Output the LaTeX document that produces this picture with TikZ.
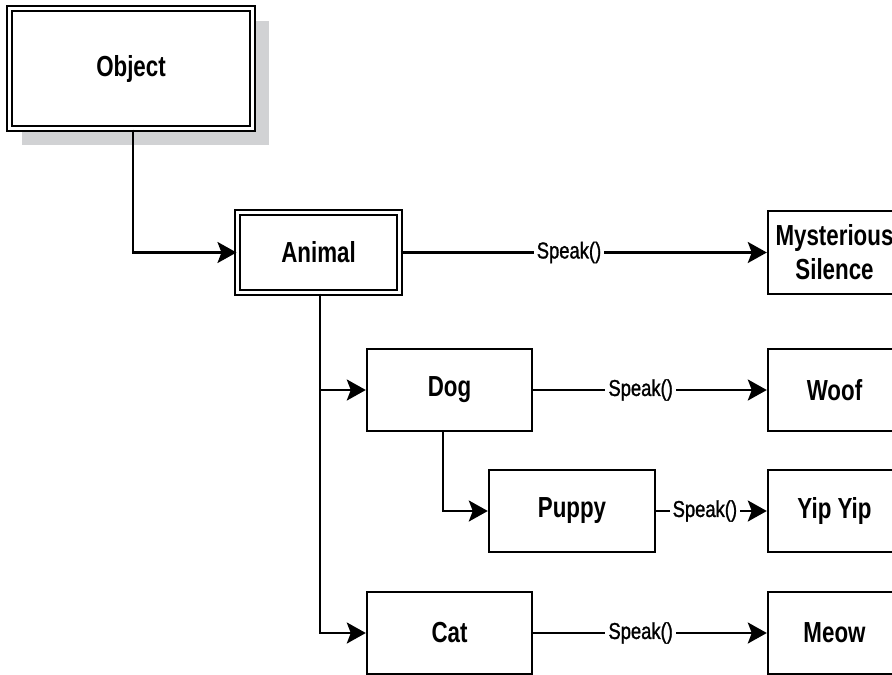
\documentclass[tikz,border=0pt]{standalone}
\usepackage{fontspec}
\newfontfamily\boxfont[FakeStretch=0.77]{Liberation Sans}
\newfontfamily\lblfont[FakeStretch=0.8,FakeBold=1.2]{Liberation Sans}
\usetikzlibrary{arrows.meta}
\definecolor{shadowgray}{HTML}{D1D2D4}
\begin{document}
\begin{tikzpicture}[x=1pt,y=-1pt,
  box/.style={draw, line width=2.4pt, fill=white, minimum width=165pt, minimum height=82pt, inner sep=0pt,
    font=\boxfont\bfseries\fontsize{29}{34}\selectfont, align=center},
  dbox/.style={box, line width=2pt, double=white, double distance=3pt},
  rbox/.style={box, minimum width=133pt},
  conn/.style={line width=2.6pt, -{Stealth[length=19pt,width=21pt,inset=4pt]}},
  lbl/.style={fill=white, inner sep=3pt, font=\lblfont\fontsize{23}{26}\selectfont}]
\useasboundingbox (0,0) rectangle (892,675);
\clip (0,0) rectangle (892,675);
\fill[shadowgray] (22,21) rectangle (269,145);
\node[dbox, minimum width=243pt, minimum height=120pt] (obj) at (131,68.5) {Object};
\node[dbox, minimum width=162pt, minimum height=80pt] (animal) at (318.5,252.5) {Animal};
\node[box] (dog) at (449.5,390) {Dog};
\node[box, minimum width=166pt] (puppy) at (572,511) {Puppy};
\node[box] (cat) at (449.5,633) {Cat};
\node[rbox, minimum height=83pt] (myst) at (834.5,252.5) {Mysterious\\Silence};
\node[rbox] (woof) at (834.5,390) {Woof};
\node[rbox] (yip) at (834.5,511) {Yip Yip};
\node[rbox] (meow) at (834.5,633) {Meow};
\draw[conn] ([xshift=2pt]obj.south) |- (animal.west);
\coordinate (trunk) at ([xshift=1.5pt]animal.south);
\draw[conn] (trunk) |- (cat.west);
\draw[conn] (trunk |- dog.west) -- (dog.west);
\draw[conn] ([xshift=-6.5pt]dog.south) |- (puppy.west);
\draw[conn] (animal.east) -- node[lbl, pos=0.46] {Speak()} (myst.west);
\draw[conn] (dog.east) -- node[lbl, pos=0.46] {Speak()} (woof.west);
\draw[conn] (puppy.east) -- node[lbl, pos=0.44] {Speak()} (yip.west);
\draw[conn] (cat.east) -- node[lbl, pos=0.46] {Speak()} (meow.west);
\end{tikzpicture}
\end{document}
